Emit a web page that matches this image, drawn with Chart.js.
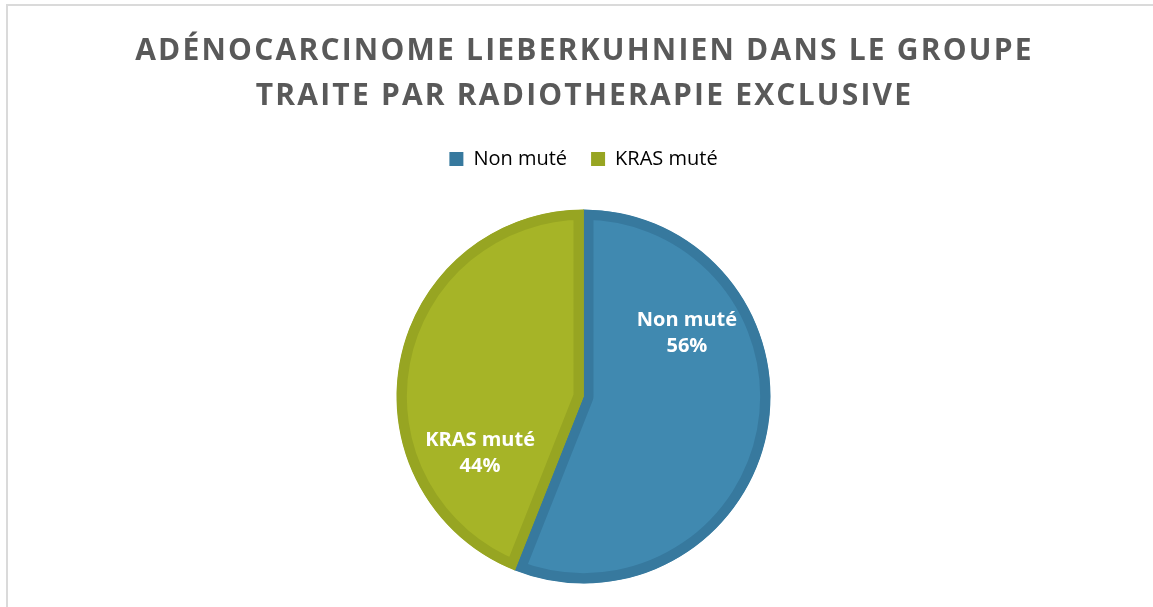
<!DOCTYPE html>
<html lang="fr">
<head>
<meta charset="UTF-8">
<title>Adénocarcinome Lieberkuhnien</title>
<script src="https://cdn.jsdelivr.net/npm/chart.js"></script>
<style>
  html, body { margin: 0; padding: 0; width: 1153px; height: 607px; overflow: hidden; background: #fff; }
  #frame { position: absolute; left: 6px; top: 4px; width: 1200px; height: 700px; border-top: 2px solid #dadada; border-left: 2px solid #dadada; }
  #wrap { position: absolute; left: 7px; top: 0; width: 1153px; height: 617px; }
</style>
</head>
<body>
<div id="frame"></div>
<div id="wrap"><canvas id="pie"></canvas></div>
<script>
  // données
  const titleLines = ['ADÉNOCARCINOME LIEBERKUHNIEN DANS LE GROUPE', 'TRAITE PAR RADIOTHERAPIE EXCLUSIVE'];
  const categories = ['Non muté', 'KRAS muté'];
  const percents = [56, 44];
  const fillColors = ['#4089b0', '#a6b427'];
  const edgeColors = ['#37799e', '#97a522'];

  const labelShift = -41 * Math.PI / 180; // étiquettes décalées comme dans Excel
  const labelDist = 0.64;

  // titre avec espacement des lettres
  const titlePlugin = {
    id: 'spacedTitle',
    afterDraw(chart) {
      const ctx = chart.ctx;
      ctx.save();
      ctx.font = 'bold 30px "Open Sans"';
      ctx.letterSpacing = '2.2px';
      ctx.fillStyle = '#595959';
      ctx.textAlign = 'center';
      ctx.textBaseline = 'middle';
      titleLines.forEach((line, i) => ctx.fillText(line, chart.width / 2 + 1, 51 + i * 45));
      ctx.restore();
    }
  };

  // étiquettes dans les parts
  const sliceLabels = {
    id: 'sliceLabels',
    afterDatasetsDraw(chart) {
      const ctx = chart.ctx;
      const meta = chart.getDatasetMeta(0);
      ctx.save();
      ctx.font = 'bold 20px "Open Sans"';
      ctx.fillStyle = '#ffffff';
      ctx.textAlign = 'center';
      ctx.textBaseline = 'middle';
      meta.data.forEach((arc, i) => {
        const p = arc.getProps(['x', 'y', 'startAngle', 'endAngle', 'outerRadius'], true);
        const mid = (p.startAngle + p.endAngle) / 2 + labelShift;
        const cx = p.x + Math.cos(mid) * p.outerRadius * labelDist;
        const cy = p.y + Math.sin(mid) * p.outerRadius * labelDist;
        ctx.fillText(categories[i], cx, cy - 16);
        ctx.fillText(percents[i] + '%', cx, cy + 10);
      });
      ctx.restore();
    }
  };

  new Chart(document.getElementById('pie'), {
    type: 'pie',
    data: {
      labels: categories,
      datasets: [{
        data: percents,
        backgroundColor: fillColors,
        borderColor: edgeColors,
        borderWidth: 10,
        borderAlign: 'inner',
        hoverOffset: 0
      }]
    },
    options: {
      responsive: true,
      maintainAspectRatio: false,
      animation: false,
      radius: 187,
      layout: { padding: { top: 125, bottom: 3 } },
      plugins: {
        tooltip: { enabled: false },
        legend: {
          position: 'top',
          labels: {
            color: '#595959',
            font: { family: '"Open Sans"', size: 20 },
            boxWidth: 14,
            boxHeight: 14,
            padding: 24,
            generateLabels(chart) {
              return categories.map((c, i) => ({
                text: c,
                fillStyle: edgeColors[i],
                strokeStyle: edgeColors[i],
                lineWidth: 0,
                index: i
              }));
            }
          }
        }
      }
    },
    plugins: [titlePlugin, sliceLabels]
  });
</script>
</body>
</html>
